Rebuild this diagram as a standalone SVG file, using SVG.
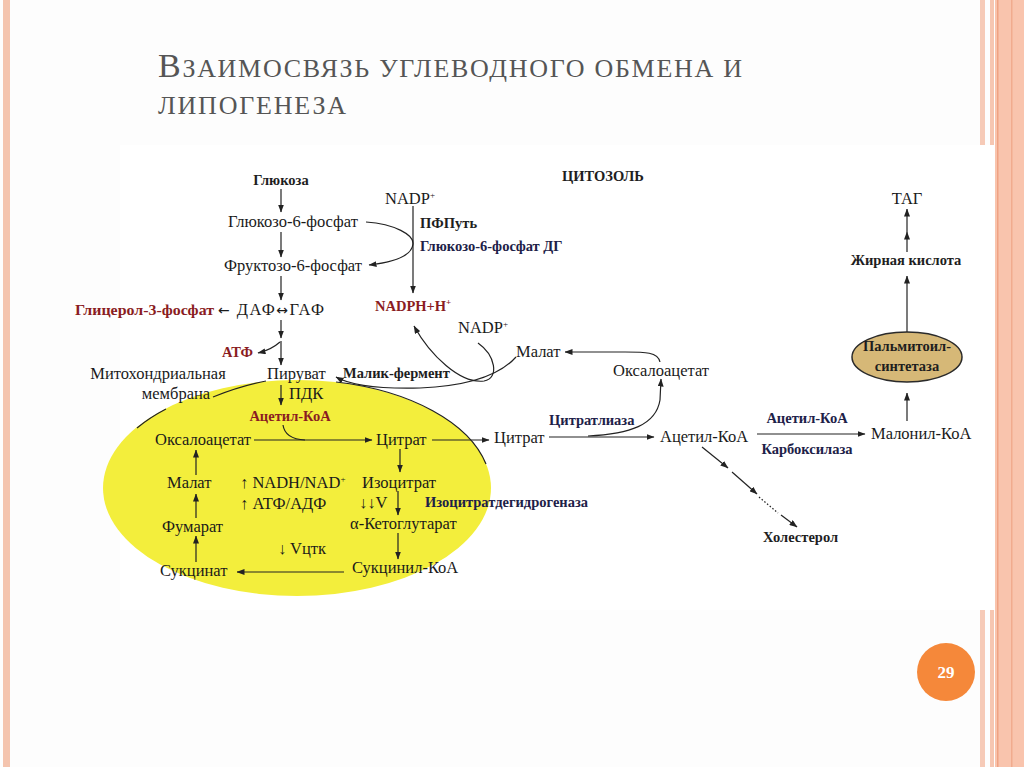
<svg xmlns="http://www.w3.org/2000/svg" width="1024" height="767" viewBox="0 0 1024 767">
<defs>
<marker id="ah" markerUnits="userSpaceOnUse" markerWidth="8" markerHeight="6" refX="7.5" refY="3" orient="auto">
<path d="M0,0 L8,3 L0,6 z" fill="#222"/>
</marker>
<style>
.t{font-family:"Liberation Serif","Times New Roman",serif;font-size:16.5px;fill:#1a1a1a}
.b{font-family:"Liberation Serif","Times New Roman",serif;font-size:14.5px;font-weight:bold;fill:#1e1e1e}
.r{fill:#8a1c22}
.n{fill:#1d2148}
.ti{font-family:"Liberation Serif","Times New Roman",serif;fill:#555}
.ar{font-family:"DejaVu Sans",sans-serif;font-size:14px}
.c{fill:none;stroke:#222;stroke-width:1.2}
.a{fill:none;stroke:#222;stroke-width:1.2;marker-end:url(#ah)}
</style>
</defs>
<rect width="1024" height="767" fill="#fdfdfd"/>
<!-- left stripe -->
<rect x="3" y="0" width="7" height="767" fill="#f4c4ae"/>
<!-- right stripes -->
<rect x="980" y="0" width="5" height="767" fill="#f6cab7"/>
<rect x="990" y="0" width="4" height="767" fill="#f6c6b1"/>
<rect x="995" y="0" width="29" height="767" fill="#f9c4ad"/>
<rect x="997" y="0" width="1.5" height="767" fill="#efa283"/>
<rect x="1011" y="0" width="1.5" height="767" fill="#f1ab8e"/>
<rect x="120" y="145" width="875" height="465" fill="#ffffff"/>
<!-- title -->
<g id="title">
<text class="ti" x="158" y="77" textLength="584" lengthAdjust="spacing"><tspan font-size="34">В</tspan><tspan font-size="26">ЗАИМОСВЯЗЬ УГЛЕВОДНОГО ОБМЕНА И</tspan></text>
<text class="ti" x="158" y="114" font-size="26" textLength="188" lengthAdjust="spacing">ЛИПОГЕНЕЗА</text>
</g>
<!-- mitochondrion -->
<g id="mitochondrion">
<ellipse cx="297" cy="488" rx="194" ry="108" fill="#f3ee3c"/>
<path class="c" d="M137 428 A194 108 0 0 1 166 409"/>
<path class="c" d="M213 397 Q240 386 266 381"/>
<path class="c" d="M336 382 A194 108 0 0 1 486 464"/>
</g>
<!-- connectors -->
<g id="connectors">
<path class="a" d="M281 189 L281 212"/>
<path class="a" d="M281 232 L281 257"/>
<path class="a" d="M281 276 L281 300"/>
<path class="a" d="M281 320 L281 338"/>
<path class="a" d="M281 341 L281 365"/>
<path class="a" d="M280 342 Q271 350 258 353"/>
<path class="a" d="M281 385 L281 405"/>
<path class="a" d="M254 440 L372 440"/>
<path class="c" d="M283 425 Q285 439 305 440"/>
<path class="a" d="M432 440 L489 440"/>
<path class="a" d="M400 449 L400 472"/>
<path class="a" d="M398 491 L398 515"/>
<path class="a" d="M398 533 L398 559"/>
<path class="a" d="M344 572 L237 572"/>
<path class="a" d="M196 562 L196 536"/>
<path class="a" d="M196 518 L196 494"/>
<path class="a" d="M196 475 L196 450"/>
<path class="a" d="M549 437 L654 437"/>
<path class="a" d="M588 436 C630 434 656 425 660 400 L661 379"/>
<path class="a" d="M660 362 C658 352 645 352 625 352 L565 352"/>
<path class="a" d="M516 357 C500 375 470 386 420 388 C380 389 350 385 336 377"/>
<path class="a" d="M478 343 C495 355 500 378 484 381 C460 384 430 355 414 326"/>
<path class="a" d="M413 206 L413 293"/>
<path class="a" d="M366 222 C395 224 414 235 413 244 C412 256 395 262 369 265"/>
<path class="a" d="M757 434 L865 434"/>
<path class="a" d="M702 447 L728 468"/>
<path class="a" d="M732 472 L757 494"/>
<path class="c" d="M759 497 L778 513" stroke-dasharray="1.5 2"/>
<path class="a" d="M781 515 L797 527"/>
<path class="a" d="M907 421 L907 393"/>
<path class="a" d="M907 332 L907 276"/>
<path class="a" d="M907 252 L907 232"/>
<path class="a" d="M907 232 L907 209"/>
</g>
<!-- nodes -->
<g id="n-glucose"><text class="b" x="281" y="185" text-anchor="middle">Глюкоза</text></g>
<g id="n-g6p"><text class="t" x="228" y="227">Глюкозо-6-фосфат</text></g>
<g id="n-f6p"><text class="t" x="224" y="271">Фруктозо-6-фосфат</text></g>
<g id="n-glycerol"><text class="b r" x="75" y="315" textLength="139" lengthAdjust="spacingAndGlyphs">Глицерол-3-фосфат</text></g>
<g id="n-dap"><text class="t" x="218" y="315" textLength="106" lengthAdjust="spacing"><tspan class="ar">←</tspan> ДАФ<tspan class="ar">↔</tspan>ГАФ</text></g>
<g id="n-atp"><text class="b r" x="222" y="357">АТФ</text></g>
<g id="n-membrane"><text class="t" x="158" y="379" text-anchor="middle">Митохондриальная</text><text class="t" x="176" y="399" text-anchor="middle">мембрана</text></g>
<g id="n-pyruvate"><text class="t" x="267" y="379">Пируват</text></g>
<g id="n-pdk"><text class="t" x="289" y="399">ПДК</text></g>
<g id="n-acetylcoa-m"><text class="b r" x="290" y="421" text-anchor="middle">Ацетил-КоА</text></g>
<g id="n-oaa-m"><text class="t" x="155" y="445">Оксалоацетат</text></g>
<g id="n-citrate-m"><text class="t" x="376" y="445">Цитрат</text></g>
<g id="n-malate-m"><text class="t" x="167" y="488">Малат</text></g>
<g id="n-nadh"><text class="t" x="240" y="488">↑ NADH/NAD<tspan font-size="9" dy="-6">+</tspan></text></g>
<g id="n-atpadp"><text class="t" x="240" y="509">↑ АТФ/АДФ</text></g>
<g id="n-isocitrate"><text class="t" x="362" y="488">Изоцитрат</text></g>
<g id="n-vv"><text class="t" x="359" y="508">↓↓V</text></g>
<g id="n-icdh"><text class="b n" x="425" y="507">Изоцитратдегидрогеназа</text></g>
<g id="n-akg"><text class="t" x="350" y="529">α-Кетоглутарат</text></g>
<g id="n-fumarate"><text class="t" x="162" y="532">Фумарат</text></g>
<g id="n-vtca"><text class="t" x="278" y="554">↓ Vцтк</text></g>
<g id="n-succinate"><text class="t" x="160" y="576">Сукцинат</text></g>
<g id="n-succcoa"><text class="t" x="352" y="573">Сукцинил-КоА</text></g>
<g id="n-cytosol"><text class="b" x="562" y="181">ЦИТОЗОЛЬ</text></g>
<g id="n-nadp1"><text class="t" x="385" y="204">NADP<tspan font-size="9" dy="-6">+</tspan></text></g>
<g id="n-ppp"><text class="b" x="420" y="228">ПФПуть</text></g>
<g id="n-g6pdh"><text class="b n" x="420" y="251">Глюкозо-6-фосфат ДГ</text></g>
<g id="n-nadph"><text class="b r" x="375" y="311">NADPH+H<tspan font-size="9" dy="-6">+</tspan></text></g>
<g id="n-nadp2"><text class="t" x="458" y="333">NADP<tspan font-size="9" dy="-6">+</tspan></text></g>
<g id="n-malate-c"><text class="t" x="516" y="357">Малат</text></g>
<g id="n-malic"><text class="b" x="343" y="378">Малик-фермент</text></g>
<g id="n-oaa-c"><text class="t" x="613" y="376">Оксалоацетат</text></g>
<g id="n-citrate-c"><text class="t" x="494" y="443">Цитрат</text></g>
<g id="n-citratelyase"><text class="b n" x="549" y="425">Цитратлиаза</text></g>
<g id="n-acetylcoa-c"><text class="t" x="660" y="442">Ацетил-КоА</text></g>
<g id="n-acc"><text class="b n" x="807" y="423" text-anchor="middle">Ацетил-КоА</text><text class="b n" x="807" y="454" text-anchor="middle">Карбоксилаза</text></g>
<g id="n-malonyl"><text class="t" x="871" y="439">Малонил-КоА</text></g>
<g id="n-cholesterol"><text class="b" x="763" y="542">Холестерол</text></g>
<g id="n-palmitoyl"><ellipse cx="907" cy="357" rx="55" ry="25" fill="#d6b877" stroke="#2a2a2a" stroke-width="1.5"/><text class="b" x="907" y="351" text-anchor="middle">Пальмитоил-</text><text class="b" x="907" y="371" text-anchor="middle">синтетаза</text></g>
<g id="n-fattyacid"><text class="b" x="906" y="265" text-anchor="middle">Жирная кислота</text></g>
<g id="n-tag"><text class="t" x="907" y="204" text-anchor="middle">ТАГ</text></g>
<!-- page number -->
<g id="page-number"><circle cx="946" cy="672" r="29" fill="#f5883a"/><text x="946" y="678" text-anchor="middle" font-family="Liberation Serif, serif" font-size="17" font-weight="bold" fill="#ffffff">29</text></g>
</svg>
